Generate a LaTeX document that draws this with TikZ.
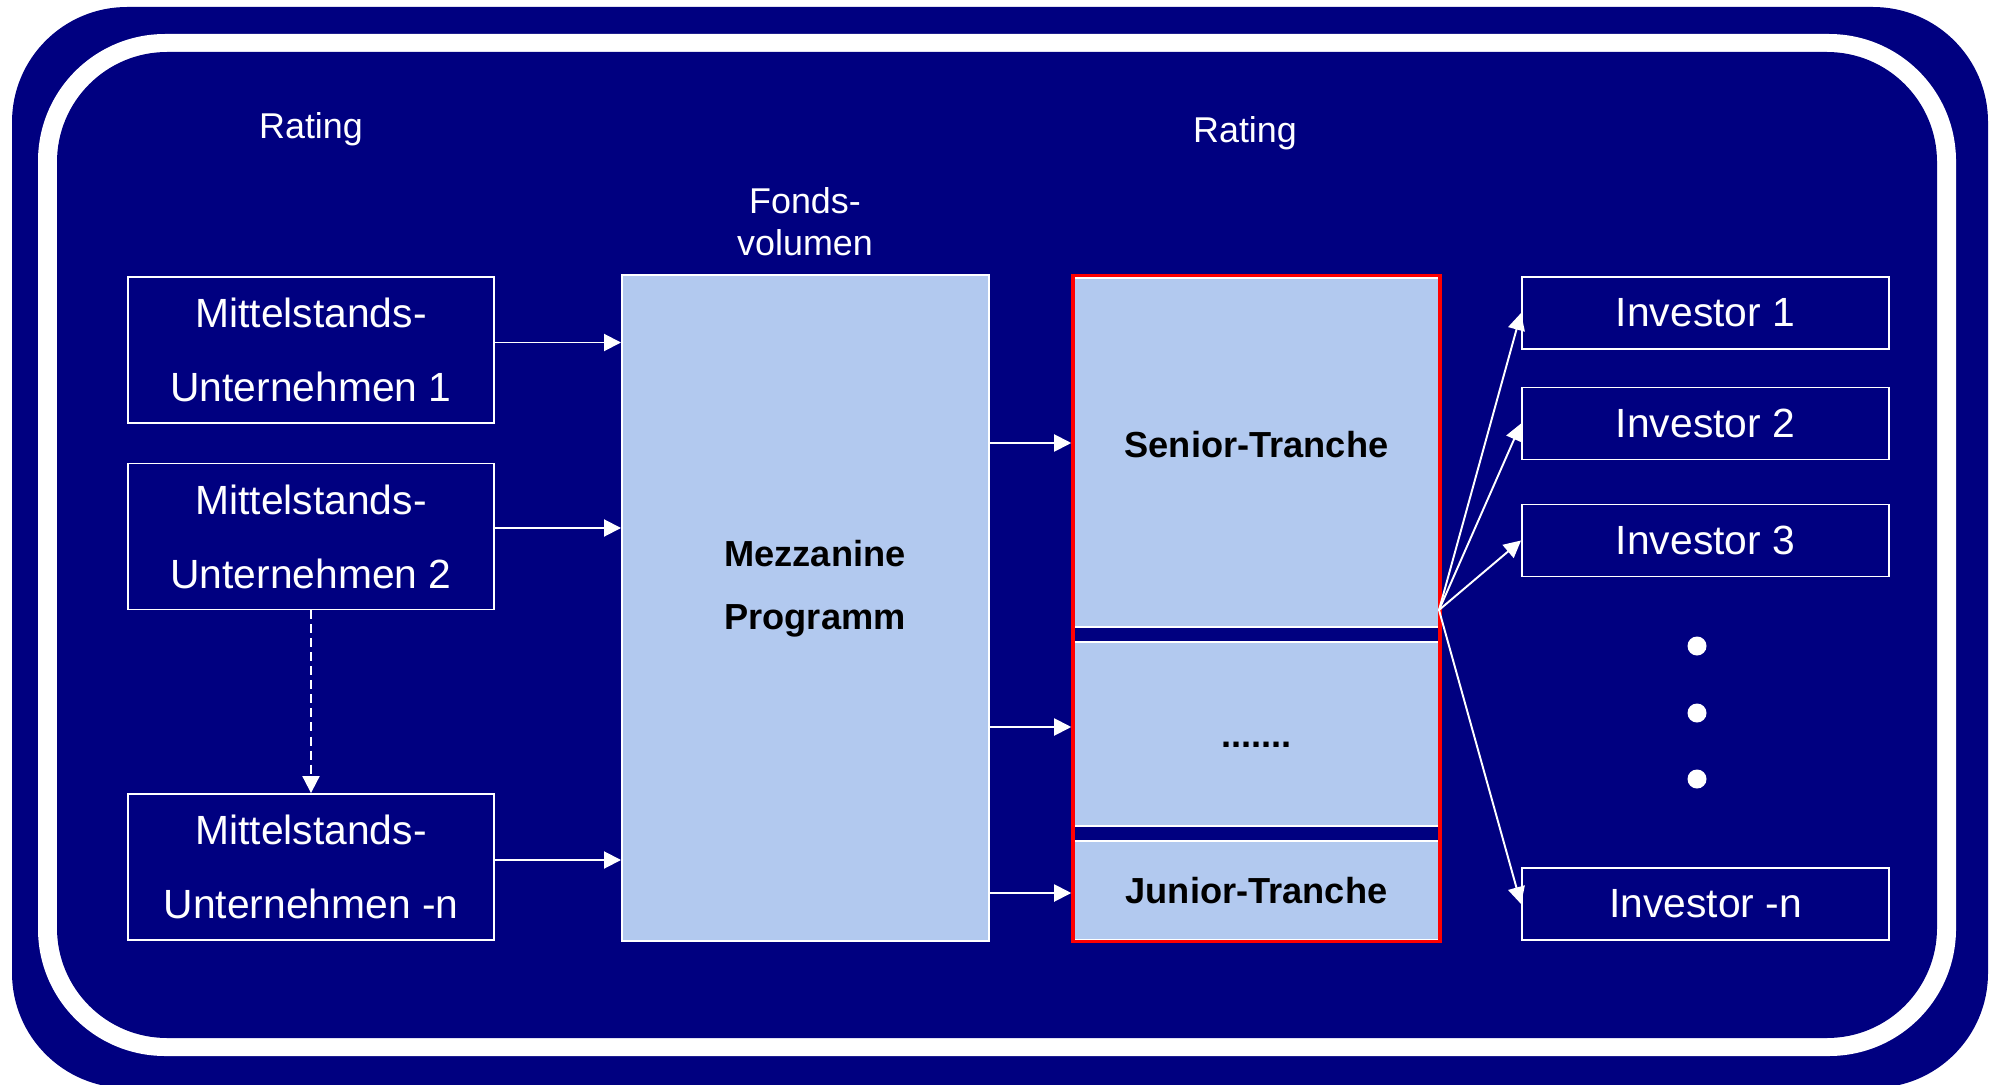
\documentclass[tikz,border=0pt]{standalone}
\usepackage{fontspec}
\setmainfont{Liberation Sans}
\usetikzlibrary{arrows.meta}
\definecolor{navy}{RGB}{0,0,128}
\definecolor{paleblue}{RGB}{178,201,239}
\definecolor{trancheframe}{RGB}{255,0,0}

\begin{document}
\begin{tikzpicture}[x=0.01cm, y=-0.01cm,
	firm/.style={draw=white, line width=0.5pt, text=white, minimum width=3.66cm, minimum height=1.46cm, inner sep=0pt, align=center, font=\fontsize{11.6}{21}\selectfont},
	investor/.style={draw=white, line width=0.5pt, text=white, minimum width=3.67cm, minimum height=0.72cm, inner sep=0pt, font=\fontsize{11.6}{14}\selectfont},
	pool/.style={draw=white, line width=0.5pt, fill=paleblue, inner sep=0pt},
	boldlbl/.style={text=black, align=center, inner sep=0pt, font=\fontsize{10.3}{17.9}\selectfont\bfseries},
	lbl/.style={text=white, align=center, inner sep=0pt, font=\fontsize{10.2}{12.2}\selectfont},
	arr/.style={draw=white, line width=0.55pt, -{Triangle[length=0.17cm, width=0.17cm]}},
	dot/.style={circle, fill=white, minimum size=0.19cm, inner sep=0pt}]
	% Background frame
	\clip (0,0) rectangle (1991,1085);
	\fill[navy, rounded corners=1.15cm] (12,7) rectangle (1988,1088);
	\fill[white, rounded corners=1.27cm] (38,34) rectangle (1956,1056);
	\fill[navy, rounded corners=1.1cm] (57,52) rectangle (1937,1038);
	% Headings
	\node[lbl, anchor=base] (R1) at (311,139) {Rating};
	\node[lbl, anchor=base] (R2) at (1245,143) {Rating};
	\node[lbl, anchor=south] (FV) at (805,257) {Fonds-\\volumen};
	% Companies
	\node[firm] (U1) at (311,350) {Mittelstands-\\Unternehmen 1};
	\node[firm] (U2) at (311,536.5) {Mittelstands-\\Unternehmen 2};
	\node[firm] (U3) at (311,867) {Mittelstands-\\Unternehmen -n};
	% Mezzanine pool
	\node[pool, minimum width=3.67cm, minimum height=6.65cm,
		label={[boldlbl, xshift=0.095cm, yshift=0.19cm]center:Mezzanine\\Programm}] (M) at (805.5,608) {};
	% Tranches
	\node[pool, minimum width=3.65cm, minimum height=3.49cm,
		label={[boldlbl, yshift=0.08cm]center:Senior-Tranche}] (S) at (1256.5,452.5) {};
	\node[pool, minimum width=3.65cm, minimum height=1.84cm,
		label={[boldlbl, yshift=-0.11cm]center:.......}] (D) at (1256.5,734) {};
	\node[pool, minimum width=3.65cm, minimum height=0.99cm,
		label={[boldlbl]center:Junior-Tranche}] (J) at (1256.5,890.5) {};
	\node[draw=trancheframe, line width=0.95pt, minimum width=3.67cm, minimum height=6.65cm, inner sep=0pt] (T) at (1256.5,608.5) {};
	% Investors
	\node[investor] (I1) at (1705.5,313) {Investor 1};
	\node[investor] (I2) at (1705.5,423.5) {Investor 2};
	\node[investor] (I3) at (1705.5,540.5) {Investor 3};
	\node[investor] (In) at (1705.5,904) {Investor -n};
	\node[dot] (D1) at (1697,646) {};
	\node[dot] (D2) at (1697,713) {};
	\node[dot] (D3) at (1697,779) {};
	% Connections companies to pool
	\draw[arr] ([yshift=0.075cm]U1.east) -- ([yshift=0.075cm]U1.east -| M.west);
	\draw[arr] ([yshift=0.085cm]U2.east) -- ([yshift=0.085cm]U2.east -| M.west);
	\draw[arr] ([yshift=0.07cm]U3.east) -- ([yshift=0.07cm]U3.east -| M.west);
	\draw[arr, dash pattern=on 0.09cm off 0.05cm] (U2.south) -- (U3.north);
	% Connections pool to tranches
	\draw[arr] ([yshift=0.095cm]S.west -| M.east) -- ([yshift=0.095cm]T.west |- S.west);
	\draw[arr] ([yshift=0.07cm]D.west -| M.east) -- ([yshift=0.07cm]T.west |- D.west);
	\draw[arr] ([yshift=-0.025cm]J.west -| M.east) -- ([yshift=-0.025cm]T.west |- J.west);
	% Connections tranches to investors
	\coordinate (F) at (1439,610);
	\draw[arr] (F) -- (I1.west);
	\draw[arr] (F) -- (I2.west);
	\draw[arr] (F) -- (I3.west);
	\draw[arr] (F) -- (In.west);
\end{tikzpicture}
\end{document}
